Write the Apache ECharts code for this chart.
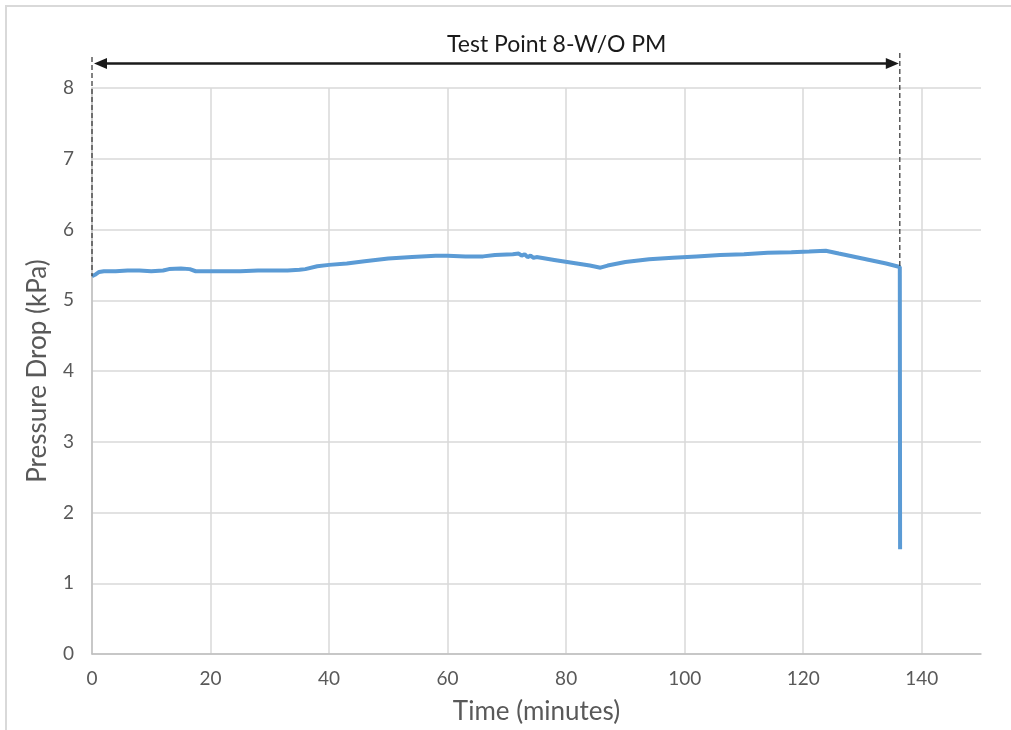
<!DOCTYPE html>
<html>
<head>
<meta charset="utf-8">
<title>Test Point 8-W/O PM</title>
<script src="https://cdn.jsdelivr.net/npm/echarts@6/dist/echarts.min.js"></script>
<style>
  html, body { margin: 0; padding: 0; background: #fff; }
  #chart { width: 1011px; height: 730px; }
</style>
</head>
<body>
<div id="chart"></div>
<script>
// time in minutes, pressure drop in kPa
const timeMin = [
  0, 0.5, 1.2, 2, 4, 6, 8, 10, 12, 13, 15, 16.5, 17.5, 20, 22, 25, 28, 30, 33, 35,
  36, 38, 40, 43, 46, 50, 54, 58, 60, 63, 66, 68, 71, 72, 72.5, 73, 73.5, 74, 74.5, 75,
  78, 81, 84, 85.8, 87, 90, 94, 98, 102, 106, 110, 114, 118, 121, 123.8, 126, 130, 134,
  136.3, 136.35
];
const pressure = [
  5.34, 5.36, 5.40, 5.41, 5.41, 5.42, 5.42, 5.41, 5.42, 5.44, 5.45, 5.44, 5.41, 5.41, 5.41, 5.41, 5.42, 5.42, 5.42, 5.43,
  5.44, 5.48, 5.50, 5.52, 5.55, 5.59, 5.61, 5.63, 5.63, 5.62, 5.62, 5.64, 5.65, 5.66, 5.63, 5.65, 5.61, 5.63, 5.60, 5.61,
  5.57, 5.53, 5.49, 5.46, 5.49, 5.54, 5.58, 5.60, 5.62, 5.64, 5.65, 5.67, 5.68, 5.69, 5.70, 5.66, 5.59, 5.52,
  5.47, 1.48
];
const yTicks = [0, 1, 2, 3, 4, 5, 6, 7, 8];
const xTicks = [0, 20, 40, 60, 80, 100, 120, 140];

// test point span (minutes)
const spanStart = 0;
const spanEnd = 136.3;

const fontName = 'Lato, "Liberation Sans", sans-serif';
const chart = echarts.init(document.getElementById('chart'));

chart.setOption({
  animation: false,
  title: {
    text: 'Test Point 8-W/O PM',
    left: 442,
    top: 28,
    textStyle: { fontFamily: fontName, fontSize: 23, fontWeight: 'normal', color: '#1a1a1a' }
  },
  grid: { left: 92, right: 30, top: 88, bottom: 76 },
  xAxis: {
    type: 'value',
    min: 0,
    max: 150,
    interval: 20,
    name: 'Time (minutes)',
    nameLocation: 'middle',
    nameGap: 45,
    nameTextStyle: { fontFamily: fontName, fontSize: 26, color: '#595959' },
    axisLine: { show: true, lineStyle: { color: '#bfbfbf', width: 1.5 } },
    axisTick: { show: false },
    axisLabel: {
      fontFamily: fontName, fontSize: 19, color: '#595959', margin: 15,
      showMaxLabel: false,
      formatter: v => (xTicks.indexOf(v) >= 0 ? String(v) : '')
    },
    splitLine: { show: true, showMaxLine: false, lineStyle: { color: '#d9d9d9', width: 1.5 } }
  },
  yAxis: {
    type: 'value',
    min: 0,
    max: 8,
    interval: 1,
    name: 'Pressure Drop (kPa)',
    nameLocation: 'middle',
    nameGap: 41,
    nameTextStyle: { fontFamily: fontName, fontSize: 26, color: '#595959' },
    axisLine: { show: true, lineStyle: { color: '#bfbfbf', width: 1.5 } },
    axisTick: { show: false },
    axisLabel: {
      fontFamily: fontName, fontSize: 19, color: '#595959', margin: 18,
      formatter: v => (yTicks.indexOf(v) >= 0 ? String(v) : '')
    },
    splitLine: { show: true, lineStyle: { color: '#d9d9d9', width: 1.5 } }
  },
  series: [{
    type: 'line',
    data: timeMin.map((t, i) => [t, pressure[i]]),
    showSymbol: false,
    smooth: false,
    lineStyle: { color: '#5b9bd5', width: 4 },
    z: 3
  }]
});

// annotation: dashed span markers and double arrow above the plot
function drawAnnotations() {
  const top = chart.convertToPixel({ gridIndex: 0 }, [0, 8])[1];
  const pStart = chart.convertToPixel({ gridIndex: 0 }, [spanStart, pressure[0]]);
  const pEnd = chart.convertToPixel({ gridIndex: 0 }, [spanEnd, pressure[pressure.length - 2]]);
  const arrowY = top - 24.5;
  const head = 13;
  const half = 5.5;
  const dash = { stroke: '#404040', lineWidth: 1.3, lineDash: [5, 3] };
  chart.setOption({
    graphic: [
      { type: 'rect', shape: { x: 6, y: 6, width: 1030, height: 760 },
        style: { fill: 'none', stroke: '#d9d9d9', lineWidth: 2 }, silent: true },
      { type: 'line', shape: { x1: pStart[0], y1: top - 31, x2: pStart[0], y2: pStart[1] }, style: dash, z: 10 },
      { type: 'line', shape: { x1: pEnd[0], y1: top - 35, x2: pEnd[0], y2: pEnd[1] }, style: dash, z: 10 },
      { type: 'line', shape: { x1: pStart[0] + head, y1: arrowY, x2: pEnd[0] - head, y2: arrowY },
        style: { stroke: '#1a1a1a', lineWidth: 2.5 }, z: 10 },
      { type: 'polygon', shape: { points: [[pStart[0] + 2, arrowY], [pStart[0] + 2 + head, arrowY - half], [pStart[0] + 2 + head, arrowY + half]] },
        style: { fill: '#1a1a1a' }, z: 10 },
      { type: 'polygon', shape: { points: [[pEnd[0] - 1, arrowY], [pEnd[0] - 1 - head, arrowY - half], [pEnd[0] - 1 - head, arrowY + half]] },
        style: { fill: '#1a1a1a' }, z: 10 }
    ]
  });
}
drawAnnotations();
</script>
</body>
</html>
